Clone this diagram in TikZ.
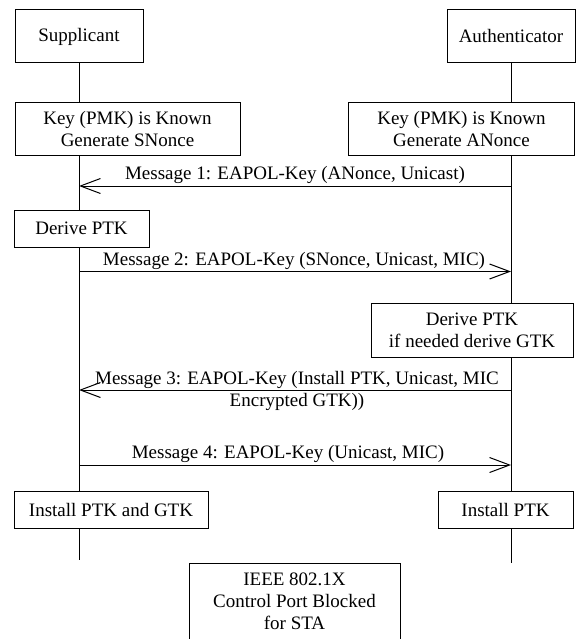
\documentclass[tikz,border=0pt]{standalone}
\usepackage{fontspec}
\setmainfont{Liberation Serif}
\usetikzlibrary{arrows.meta}

\begin{document}
\begin{tikzpicture}[x=1pt, y=-1pt,
  every node/.style={font=\fontsize{19}{22}\selectfont},
  box/.style={draw, line width=1pt, align=center, inner sep=0pt,
              minimum height=#1},
  box/.default=37,
  life/.style={line width=1pt},
  msg/.style={line width=1pt, -{Straight Barb[length=20pt,width=15pt]}},
  lbl/.style={align=center, inner sep=0pt}]

\useasboundingbox (0,0) rectangle (576,639);

% participants
\node[box=53, minimum width=128] (sup)  at (79,36.5)  {Supplicant};
\node[box=53, minimum width=128] (auth) at (511,36.5) {Authenticator};

% state boxes of the supplicant
\node[box=53, minimum width=225] (keyS) at (127.5,129.5) {Key (PMK) is Known\\Generate SNonce};
\node[box=37, minimum width=135] (derS) at (81.5,228.5)  {Derive PTK};
\node[box=37, minimum width=194] (insS) at (111,509.5)   {Install PTK and GTK};

% state boxes of the authenticator
\node[box=53, minimum width=226] (keyA) at (461.5,129.5) {Key (PMK) is Known\\Generate ANonce};
\node[box=54, minimum width=202] (derA) at (472,330)     {Derive PTK\\if needed derive GTK};
\node[box=37, minimum width=135] (insA) at (505.5,509.5) {Install PTK};

% port state
\node[box=76, minimum width=211] (port) at (294.5,601)
  {IEEE 802.1X\\Control Port Blocked\\for STA};

% lifeline ends
\coordinate (endS) at (79,560);
\coordinate (endA) at (511,563);

% supplicant lifeline
\draw[life] (sup.south) -- (sup.south |- keyS.north);
\draw[life] (sup.south |- keyS.south) -- (sup.south |- derS.north);
\draw[life] (sup.south |- derS.south) -- (sup.south |- insS.north);
\draw[life] (sup.south |- insS.south) -- (endS);

% authenticator lifeline
\draw[life] (auth.south) -- (auth.south |- keyA.north);
\draw[life] (auth.south |- keyA.south) -- (auth.south |- derA.north);
\draw[life] (auth.south |- derA.south) -- (auth.south |- insA.north);
\draw[life] (auth.south |- insA.south) -- (endA);

% message end points on the lifelines
\coordinate (m1A) at (511,186);   \coordinate (m1S) at (79,186);
\coordinate (m2S) at (79,271.5);  \coordinate (m2A) at (511,271.5);
\coordinate (m3A) at (511,390);   \coordinate (m3S) at (79,390);
\coordinate (m4S) at (79,465);    \coordinate (m4A) at (511,465);

% messages
\draw[msg] (m1A) -- (m1S);
\node[lbl] (l1) at (295,175) {Message 1: EAPOL-Key (ANonce, Unicast)};

\draw[msg] (m2S) -- (m2A);
\node[lbl] (l2) at (294,261) {Message 2: EAPOL-Key (SNonce, Unicast, MIC)};

\draw[msg] (m3A) -- (m3S);
\node[lbl] (l3) at (297,391) {Message 3: EAPOL-Key (Install PTK, Unicast, MIC\\Encrypted GTK))};

\draw[msg] (m4S) -- (m4A);
\node[lbl] (l4) at (288,454) {Message 4: EAPOL-Key (Unicast, MIC)};

\end{tikzpicture}
\end{document}
